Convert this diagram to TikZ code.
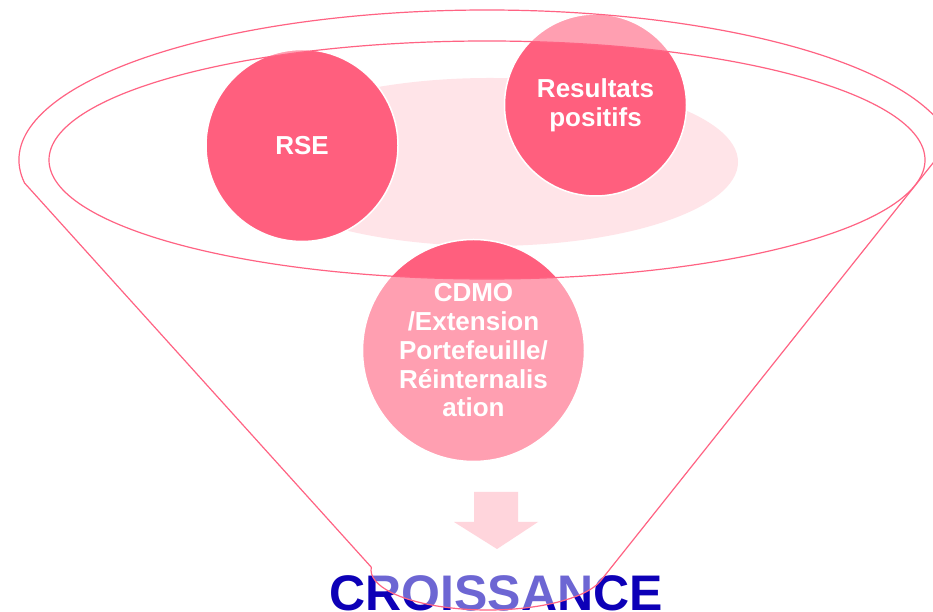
\documentclass[tikz,border=0pt]{standalone}
\usepackage{fontspec}
\setmainfont{Liberation Sans}
\definecolor{ballred}{HTML}{FF5F7E}
\definecolor{rimred}{HTML}{FF6383}
\definecolor{palepink}{HTML}{FFE4E8}
\definecolor{arrowpink}{HTML}{FFB9C6}
\definecolor{growblue}{RGB}{13,0,183}
\begin{document}
\begin{tikzpicture}[x=1pt,y=1pt,
  ball/.style={circle, draw=white, line width=1.5pt, fill=ballred, inner sep=0pt,
    text=white, font=\bfseries\fontsize{26}{28.75}\selectfont, align=center},
  rim/.style={draw=rimred, line width=1.2pt},
  veil/.style={fill=white, fill opacity=0.4, even odd rule}]
\useasboundingbox (0,0) rectangle (933,612);
\fill[white] (0,0) rectangle (933,612);
\clip (0,0) rectangle (933,612);
% pale background ellipse
\fill[palepink] (490,450) ellipse [x radius=248pt, y radius=84pt];
% circles
\node[ball, minimum size=192pt] (rse) at (302,466.5) {RSE};
\node[ball, minimum size=182pt] (res) at (595.5,507) {Resultats\\positifs};
\node[ball, minimum size=222pt] (cdmo) at (473.5,261.5) {CDMO\\/Extension\\Portefeuille/\\Réinternalis\\ation};
% arrow
\fill[arrowpink] (474,120) -- (518,120) -- (518,90) -- (538,90) -- (497,63) -- (454,90) -- (474,90) -- cycle;
% bottom text
\node[anchor=base, inner sep=0pt, text=growblue, font=\bfseries\fontsize{50}{50}\selectfont] (grow) at (496,1) {CROISSANCE};
% funnel veil
\fill[veil] (24.54,429) arc[start angle=188.82, end angle=7.5, x radius=468pt, y radius=150pt]
  -- (599.9,30.3) arc[start angle=343, end angle=176, x radius=117pt, y radius=40pt] -- cycle
  (487,452) ellipse [x radius=438pt, y radius=119pt];
% funnel outline
\draw[rim] (24.54,429) arc[start angle=188.82, end angle=7.5, x radius=468pt, y radius=150pt]
  -- (599.9,30.3) arc[start angle=343, end angle=176, x radius=117pt, y radius=40pt] -- cycle;
\draw[rim] (487,452) ellipse [x radius=438pt, y radius=119pt];
\end{tikzpicture}
\end{document}
